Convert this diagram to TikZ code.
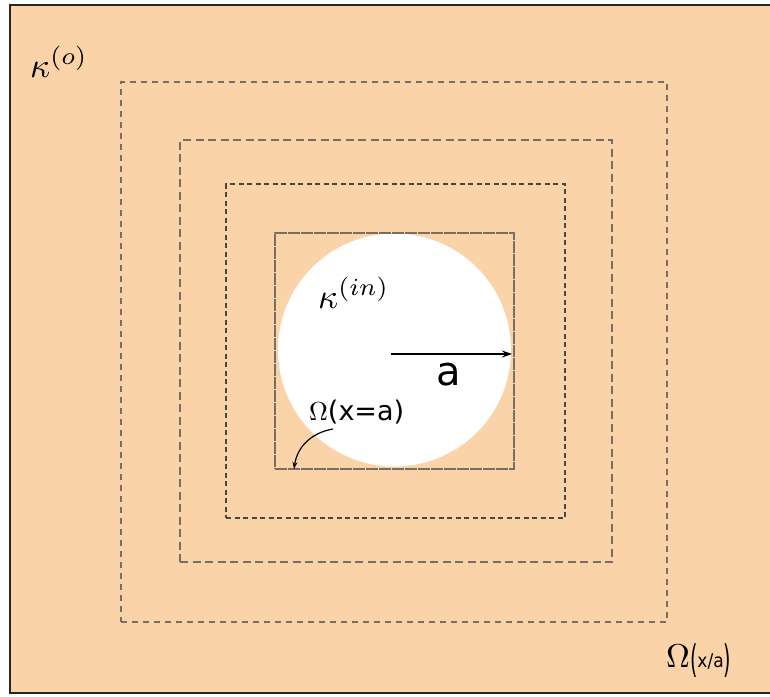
\documentclass[tikz,border=0pt]{standalone}
\usepackage{fontspec}
\usetikzlibrary{arrows.meta}
\newfontfamily\dvsans{DejaVu Sans}
\definecolor{peach}{RGB}{250,212,168}
\definecolor{dashgray}{RGB}{120,110,100}
\definecolor{darkgray2}{RGB}{75,70,65}
\newcommand{\tallparen}[1]{\raisebox{-5pt}{\scalebox{1}[2]{#1}}}
\begin{document}
\begin{tikzpicture}[x=1pt,y=-1pt,
  sq/.style={draw=dashgray, line width=1.4pt, inner sep=0pt, outer sep=0pt},
  lbl/.style={inner sep=0pt, anchor=base west},
  tip/.style={-{Stealth[length=10pt,width=7pt]}, line width=1.4pt, black}]
\useasboundingbox (0,0) rectangle (770,696);
\clip (0,0) rectangle (770,696);
\fill[white] (0,0) rectangle (770,696);
\fill[peach] (10,5) rectangle (780,693);
\draw[line width=2pt, black!85] (780,5) -- (10,5) -- (10,693) -- (780,693);
% disk
\node[circle, fill=white, minimum size=233pt, inner sep=0pt, outer sep=0pt] (disk) at (394.5,350) {};
% squares
\node[sq, dash pattern=on 6pt off 5pt, minimum width=546pt, minimum height=540pt] (sq1) at (394,352) {};
\node[sq, dash pattern=on 8pt off 4.5pt, minimum width=432pt, minimum height=422pt] (sq2) at (396,351) {};
\node[sq, draw=darkgray2, dash pattern=on 5pt off 3.5pt, minimum width=339pt, minimum height=334pt] (sq3) at (395.5,351) {};
\node[sq, line width=1.1pt, dash pattern=on 12pt off 1pt, minimum width=239pt, minimum height=236pt] (sq4) at (394.5,351) {};
% radius arrow
\coordinate (rstart) at (391,354);
\coordinate (rend) at (512,354);
\draw[tip] (rstart) -- (rend);
% labels
\node[lbl] (ko) at (30,77) {\scalebox{3.5}{$\kappa^{(o)}$}};
\node[lbl] (kin) at (318,308) {\scalebox{3.5}{$\kappa^{(in)}$}};
\node[lbl] (alab) at (436,385) {\fontsize{40}{44}\selectfont\dvsans a};
\node[lbl] (omx) at (309,420) {\scalebox{2.6}{$\Omega$}\fontsize{27}{30}\selectfont\dvsans(x=a)};
\node[lbl] (omxa) at (666,667) {\scalebox{3.3}{$\Omega$}\fontsize{19}{21}\selectfont\dvsans\tallparen{(}\scalebox{0.9}[1]{x/a}\tallparen{)}};
% curved pointer
\coordinate (pstart) at (333,429);
\coordinate (pend) at (294,469);
\draw[-{Stealth[length=7pt,width=5pt]}, line width=1.2pt, black] (pstart) .. controls (310,433) and (297,448) .. (pend);
\end{tikzpicture}
\end{document}
